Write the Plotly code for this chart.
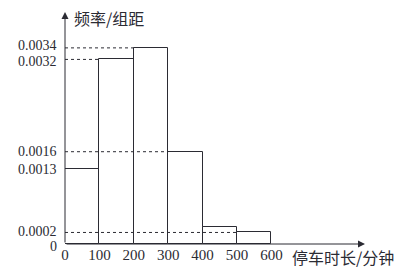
import plotly.graph_objects as go

bin_left = [0, 100, 200, 300, 400, 500]
bin_width = 100
density = [0.0013, 0.0032, 0.0034, 0.0016, 0.0003, 0.0002]
y_ticks = [0, 0.0002, 0.0013, 0.0016, 0.0032, 0.0034]
y_tick_text = ["0", "0.0002", "0.0013", "0.0016", "0.0032", "0.0034"]
y_tick_nudge = [-2, 1, 0, 0, -2, 2]
x_ticks = [0, 100, 200, 300, 400, 500, 600]
x_tick_text = ["0", "100", "200", "300", "400", "500", "600"]
# dashed guide lines: (value, x where line ends)
guide_vals = [0.0034, 0.0032, 0.0016, 0.0002]
guide_ends = [200, 100, 300, 500]
y_title = "频率/组距"
x_title = "停车时长/分钟"

INK = "#2b2b33"
X_MAX = 872
Y_MAX = 0.004022

fig = go.Figure()

fig.add_trace(go.Bar(
    x=[l + bin_width / 2 for l in bin_left],
    y=density,
    width=bin_width,
    marker=dict(color="white", line=dict(color=INK, width=1)),
    hoverinfo="skip",
    showlegend=False,
))

for v, e in zip(guide_vals, guide_ends):
    fig.add_trace(go.Scatter(
        x=[0, e], y=[v, v], mode="lines",
        line=dict(color=INK, width=1, dash="3px,3px"),
        hoverinfo="skip", showlegend=False,
    ))

# axes with arrows
fig.add_annotation(x=X_MAX, y=0, ax=0, ay=0, xref="x", yref="y", axref="x", ayref="y",
                   showarrow=True, arrowhead=2, arrowsize=1.4, arrowwidth=1,
                   arrowcolor=INK, text="", standoff=0, startstandoff=0)
fig.add_annotation(x=0, y=Y_MAX, ax=0, ay=0, xref="x", yref="y", axref="x", ayref="y",
                   showarrow=True, arrowhead=2, arrowsize=1.4, arrowwidth=1,
                   arrowcolor=INK, text="", standoff=0, startstandoff=0)

# y tick labels as annotations (slightly nudged to avoid touching)
for v, t, n in zip(y_ticks, y_tick_text, y_tick_nudge):
    fig.add_annotation(x=0, y=v, xref="x", yref="y", text=t, showarrow=False,
                       xanchor="right", yanchor="middle", xshift=-7, yshift=n,
                       borderpad=0,
                       font=dict(family="Liberation Serif", size=14, color=INK))

fig.add_annotation(x=0.023, y=0.975, xref="paper", yref="paper", text=y_title,
                   showarrow=False, xanchor="left", yanchor="middle",
                   font=dict(family="Noto Sans CJK SC", size=16, color=INK))
fig.add_annotation(x=0.75, y=-0.058, xref="paper", yref="paper", text=x_title,
                   showarrow=False, xanchor="left", yanchor="middle",
                   font=dict(family="Noto Sans CJK SC", size=16, color=INK))

fig.update_layout(
    width=402, height=275,
    margin=dict(l=65, r=37, t=12, b=26),
    paper_bgcolor="white", plot_bgcolor="white",
    bargap=0,
    xaxis=dict(range=[0, X_MAX], tickvals=x_ticks, ticktext=x_tick_text,
               showgrid=False, zeroline=False, showline=False, ticks="",
               tickfont=dict(family="Liberation Serif", size=15, color=INK)),
    yaxis=dict(range=[0, Y_MAX], showticklabels=False,
               showgrid=False, zeroline=False, showline=False, ticks=""),
)

fig.write_html("out.html")
